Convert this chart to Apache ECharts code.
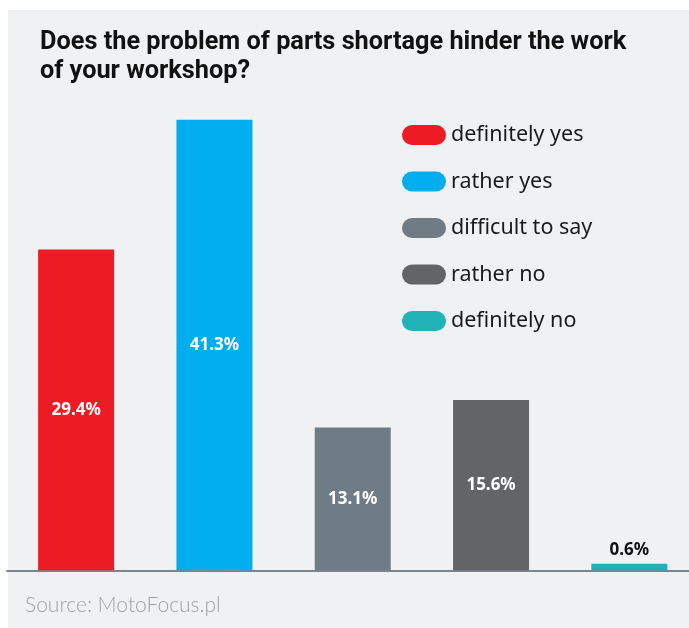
<!DOCTYPE html>
<html>
<head>
<meta charset="utf-8">
<script src="https://cdn.jsdelivr.net/npm/echarts@6/dist/echarts.min.js"></script>
<style>
  html, body { margin: 0; padding: 0; background: #ffffff; overflow: hidden; }
  #chart { width: 700px; height: 628px; }
</style>
</head>
<body>
<div id="chart"></div>
<script>
// Survey answers and their shares (%)
const categories = ['definitely yes', 'rather yes', 'difficult to say', 'rather no', 'definitely no'];
const values = [29.4, 41.3, 13.1, 15.6, 0.6];
const colors = ['#ed1c24', '#00adef', '#6f7c86', '#636466', '#1fb3b7'];
const titleText = 'Does the problem of parts shortage hinder the work\nof your workshop?';
const sourceText = 'Source: MotoFocus.pl';

const chart = echarts.init(document.getElementById('chart'), null, { renderer: 'canvas' });

// One series per answer so the legend lists each colour; bars overlap with barGap -100%
const series = categories.map((name, i) => ({
  name: name,
  type: 'bar',
  barWidth: 76,
  barGap: '-100%',
  itemStyle: { color: colors[i] },
  label: {
    show: true,
    position: values[i] < 2 ? 'top' : 'inside',
    distance: 5,
    formatter: p => p.value.toFixed(1) + '%',
    color: values[i] < 2 ? '#111111' : '#ffffff',
    fontFamily: 'Noto Sans',
    fontWeight: 'bold',
    fontSize: 17
  },
  data: categories.map((c, j) => (j === i ? values[i] : '-'))
}));

chart.setOption({
  backgroundColor: '#ffffff',
  animation: false,
  graphic: [
    { type: 'rect', left: 8, top: 10, shape: { width: 692, height: 618 }, style: { fill: '#f0f1f3' }, z: -10 }
  ],
  title: [
    {
      text: titleText,
      left: 40,
      top: 28,
      padding: 0,
      textStyle: {
        fontFamily: 'Roboto',
        fontWeight: 'bold',
        fontSize: 25.3,
        lineHeight: 29,
        color: '#111111'
      }
    },
    {
      text: sourceText,
      left: 25,
      top: 595,
      padding: 0,
      textStyle: {
        fontFamily: 'Lato',
        fontWeight: 300,
        fontSize: 21,
        color: '#9ea3a8'
      }
    }
  ],
  legend: {
    orient: 'vertical',
    left: 397,
    top: 119,
    itemWidth: 44,
    itemHeight: 20,
    itemGap: 24.5,
    icon: 'path://M10,0 L34,0 A10,10 0 0 1 34,20 L10,20 A10,10 0 0 1 10,0 Z',
    textStyle: { fontFamily: 'Noto Sans', fontSize: 21.5, lineHeight: 20, color: '#1a1a1a' },
    data: categories
  },
  grid: { left: 7, top: 24.8, width: 691.5, height: 545.5, containLabel: false },
  xAxis: {
    type: 'category',
    data: categories,
    axisLine: { show: true, lineStyle: { color: '#7a8590', width: 2 } },
    axisTick: { show: false },
    axisLabel: { show: false }
  },
  yAxis: {
    type: 'value',
    min: 0,
    max: 50,
    show: false,
    splitLine: { show: false }
  },
  series: series
});
</script>
</body>
</html>
